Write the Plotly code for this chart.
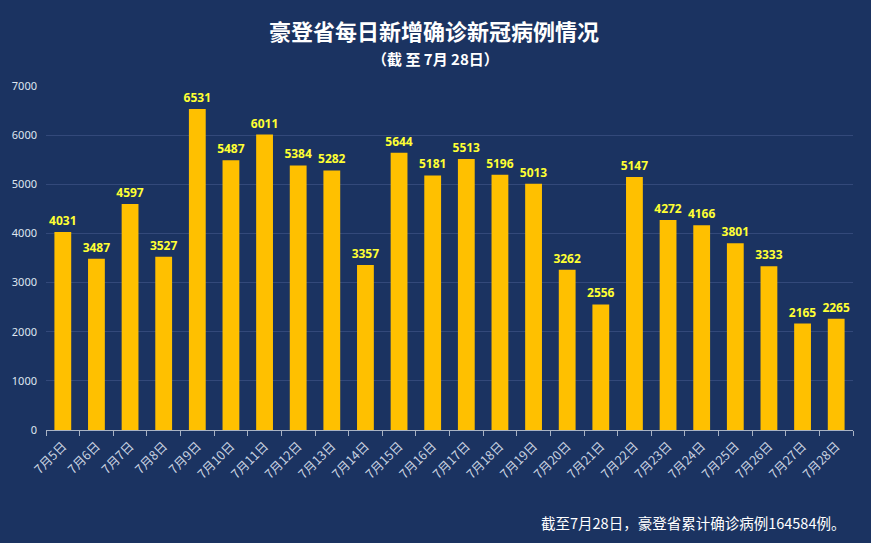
import plotly.graph_objects as go

dates = [f"7月{d}日" for d in range(5, 29)]
cases = [4031, 3487, 4597, 3527, 6531, 5487, 6011, 5384, 5282, 3357, 5644, 5181,
         5513, 5196, 5013, 3262, 2556, 5147, 4272, 4166, 3801, 3333, 2165, 2265]
y_ticks = [0, 1000, 2000, 3000, 4000, 5000, 6000, 7000]

title_text = "豪登省每日新增确诊新冠病例情况"
subtitle_text = "（截 至 7月 28日）"
note_text = "截至7月28日，豪登省累计确诊病例164584例。"

bg = "#1b3361"
font_cjk = "Noto Sans CJK SC"

W, H = 871, 543
ML, MR, MT, MB = 46, 18, 86, 113
plot_w = W - ML - MR
plot_h = H - MT - MB


def px_x(x):
    return (x - ML) / plot_w


def px_y(y):
    return (H - MB - y) / plot_h


fig = go.Figure()
fig.add_trace(go.Bar(
    x=dates, y=cases,
    marker=dict(color="#FFC000", line=dict(width=0)),
    text=[str(v) for v in cases],
    textposition="outside",
    constraintext="none",
    textfont=dict(color="#FFFF33", size=12, family="Noto Sans, " + font_cjk),
    cliponaxis=False,
    texttemplate="<b>%{text}</b>",
))

fig.update_layout(
    width=W, height=H,
    paper_bgcolor=bg, plot_bgcolor=bg,
    margin=dict(l=ML, r=MR, t=MT, b=MB),
    bargap=0.5,
    showlegend=False,
    font=dict(family=font_cjk, color="#dfe6f0"),
    xaxis=dict(
        type="category",
        tickangle=-45,
        tickfont=dict(size=12.5, color="#c9d2e0", family=font_cjk),
        showgrid=False,
        showline=True, linecolor="#a9b3c4", linewidth=1,
        ticks="outside", ticklen=5, tickcolor="#a9b3c4",
        tickson="boundaries",
        ticklabelstandoff=3,
    ),
    yaxis=dict(
        range=[0, 7000],
        tickvals=y_ticks,
        tickfont=dict(size=11, color="#dfe6f0", family="Noto Sans"),
        gridcolor="#33497a", gridwidth=1,
        zeroline=False,
        showline=False,
        ticks="", ticklabelstandoff=8,
    ),
    annotations=[
        dict(text="<b>" + title_text + "</b>", x=px_x(434), y=px_y(30), xref="paper", yref="paper",
             yanchor="middle", showarrow=False,
             font=dict(size=22, color="#ffffff", family=font_cjk)),
        dict(text="<b>" + subtitle_text + "</b>", x=px_x(435), y=px_y(58), xref="paper", yref="paper",
             yanchor="middle", showarrow=False,
             font=dict(size=15, color="#ffffff", family=font_cjk)),
        dict(text=note_text, x=px_x(847), y=px_y(522), xref="paper", yref="paper",
             xanchor="right", yanchor="middle", showarrow=False,
             font=dict(size=14.5, color="#ffffff", family=font_cjk)),
    ],
)

fig.write_html("out.html", config={"displayModeBar": False},
               post_script="document.body.style.margin='0';")
